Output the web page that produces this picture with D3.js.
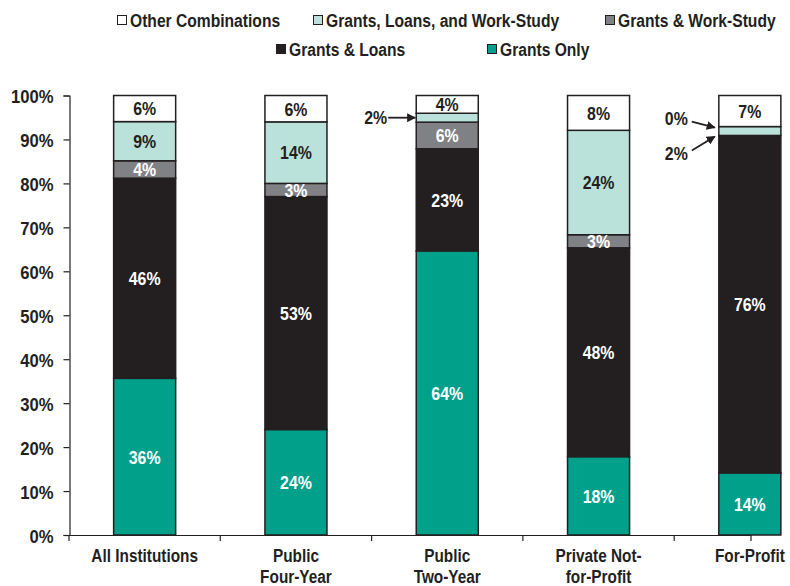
<!DOCTYPE html>
<html>
<head>
<meta charset="utf-8">
<script src="https://cdn.jsdelivr.net/npm/d3@7/dist/d3.min.js"></script>
<style>
  html, body { margin: 0; padding: 0; background: #fff; }
  svg { display: block; }
  text { font-family: "Liberation Sans", Arial, sans-serif; font-weight: bold; fill: #231f20; }
</style>
</head>
<body>
<svg id="chart" width="790" height="586"></svg>
<script>
// Institution types (each label may wrap onto two lines)
const categories = ["All Institutions", "Public Four-Year", "Public Two-Year", "Private Not-for-Profit", "For-Profit"];
const categoryLines = [["All Institutions"], ["Public", "Four-Year"], ["Public", "Two-Year"], ["Private Not-", "for-Profit"], ["For-Profit"]];

// Aid package shares (percent), stacked bottom to top
const series = ["Grants Only", "Grants & Loans", "Grants & Work-Study", "Grants, Loans, and Work-Study", "Other Combinations"];
const grantsOnly      = [36, 24, 64, 18, 14];
const grantsLoans     = [46, 53, 23, 48, 76];
const grantsWorkStudy = [4, 3, 6, 3, 0];
const grantsLoansWS   = [9, 14, 2, 24, 2];
const otherCombos     = [6, 6, 4, 8, 7];

const yTicks = [0, 0.1, 0.2, 0.3, 0.4, 0.5, 0.6, 0.7, 0.8, 0.9, 1.0];

const colors = {
  "Grants Only": "#00a08a",
  "Grants & Loans": "#231f20",
  "Grants & Work-Study": "#808184",
  "Grants, Loans, and Work-Study": "#bbe2da",
  "Other Combinations": "#ffffff"
};
const labelColors = {
  "Grants Only": "#ffffff",
  "Grants & Loans": "#ffffff",
  "Grants & Work-Study": "#ffffff",
  "Grants, Loans, and Work-Study": "#231f20",
  "Other Combinations": "#231f20"
};

const rows = categories.map((c, i) => ({
  category: c,
  "Grants Only": grantsOnly[i],
  "Grants & Loans": grantsLoans[i],
  "Grants & Work-Study": grantsWorkStudy[i],
  "Grants, Loans, and Work-Study": grantsLoansWS[i],
  "Other Combinations": otherCombos[i]
}));

const stacked = d3.stack().keys(series).offset(d3.stackOffsetExpand)(rows);

const svg = d3.select("#chart");
const FONT = 18.5;

// Condensed bold text: horizontally squeezed around its anchor point
function condText(parent, tx, ty, str, opts = {}) {
  const sx = opts.sx || 0.84;
  return parent.append("text")
    .attr("transform", `translate(${tx},${ty}) scale(${sx},1)`)
    .attr("text-anchor", opts.anchor || "start")
    .attr("font-size", opts.size || FONT)
    .attr("dy", opts.dy || null)
    .style("fill", opts.fill || "#231f20")
    .text(str);
}

const plotLeft = 69, plotBottom = 535, plotTop = 95.5, catStep = 151.3, axisEnd = 751;
const x = d3.scaleBand()
  .domain(categories)
  .range([plotLeft, plotLeft + catStep * categories.length])
  .paddingInner(0.59)
  .paddingOuter(0.295);
const y = d3.scaleLinear().domain([0, 1]).range([plotBottom, plotTop]);

// Y axis
const yAxis = d3.axisLeft(y).tickValues(yTicks).tickFormat(d3.format(".0%")).tickSize(6).tickPadding(9);
const yg = svg.append("g").attr("transform", `translate(${plotLeft + 0.5},0)`).call(yAxis);
yg.select(".domain").attr("stroke", "#231f20").attr("stroke-width", 1.2);
yg.selectAll(".tick line").attr("stroke", "#231f20").attr("stroke-width", 1.2);
yg.selectAll(".tick text")
  .attr("x", 0)
  .attr("transform", "translate(-16,0) scale(0.9,1)")
  .attr("font-size", FONT)
  .attr("font-family", "'Liberation Sans', Arial, sans-serif")
  .attr("font-weight", "bold")
  .attr("fill", "#231f20")
  .attr("dy", "0.4em");

// Bars
const layer = svg.append("g").selectAll("g")
  .data(stacked)
  .join("g")
  .attr("fill", d => colors[d.key]);

layer.selectAll("rect")
  .data(d => d.map(p => ({ key: d.key, p })))
  .join("rect")
  .attr("x", d => x(d.p.data.category))
  .attr("width", x.bandwidth())
  .attr("y", d => y(d.p[1]))
  .attr("height", d => Math.max(0, y(d.p[0]) - y(d.p[1])))
  .attr("stroke", "#231f20")
  .attr("stroke-width", 1.5);

// X axis: baseline, separator ticks and end tick
const xg = svg.append("g");
xg.append("line")
  .attr("x1", plotLeft).attr("x2", axisEnd)
  .attr("y1", plotBottom + 0.5).attr("y2", plotBottom + 0.5)
  .attr("stroke", "#231f20").attr("stroke-width", 1.2);
const sepTicks = categories.map((c, i) => plotLeft + i * x.step()).concat([axisEnd]);
xg.selectAll("line.tick")
  .data(sepTicks)
  .join("line")
  .attr("class", "tick")
  .attr("x1", d => d).attr("x2", d => d)
  .attr("y1", plotBottom).attr("y2", plotBottom + 6)
  .attr("stroke", "#231f20").attr("stroke-width", 1.2);

categories.forEach((c, i) => {
  const cx = x(c) + x.bandwidth() / 2;
  categoryLines[i].forEach((line, j) => {
    condText(xg, cx, 562 + j * 21, line, { anchor: "middle", sx: 0.83 });
  });
});

// Value labels inside segments (thin ones are called out with arrows)
const segs = [];
stacked.forEach(s => s.forEach((p, i) => segs.push({ key: s.key, p, value: rows[i][s.key], category: categories[i] })));
const valueLayer = svg.append("g");
segs.filter(d => d.value >= 3).forEach(d => {
  condText(valueLayer,
    x(d.category) + x.bandwidth() / 2,
    (y(d.p[0]) + y(d.p[1])) / 2,
    d.value + "%",
    { anchor: "middle", sx: 0.86, dy: "0.37em", fill: labelColors[d.key] });
});

// Arrow callouts for the thin segments
const defs = svg.append("defs");
defs.append("marker")
  .attr("id", "arrow")
  .attr("viewBox", "0 0 10 10")
  .attr("refX", 9).attr("refY", 5)
  .attr("markerWidth", 5).attr("markerHeight", 5)
  .attr("markerUnits", "strokeWidth")
  .attr("orient", "auto")
  .append("path").attr("d", "M0,0 L10,5 L0,10 Z").attr("fill", "#231f20");

const callouts = svg.append("g");
function callout(tx, ty, x1, y1, x2, y2, label) {
  callouts.append("line")
    .attr("x1", x1).attr("y1", y1).attr("x2", x2).attr("y2", y2)
    .attr("stroke", "#231f20").attr("stroke-width", 1.8)
    .attr("marker-end", "url(#arrow)");
  condText(callouts, tx, ty, label, { anchor: "end", sx: 0.86 });
}
function segOf(cat, key) { return segs.find(s => s.category === cat && s.key === key); }

// Public Two-Year: horizontal arrow to the middle of the thin segment
{
  const s = segOf("Public Two-Year", "Grants, Loans, and Work-Study");
  const bx = x(s.category);
  const my = (y(s.p[0]) + y(s.p[1])) / 2;
  callout(bx - 29, my + 6.5, bx - 28, my, bx - 1, my, s.value + "%");
}
// For-Profit: two angled arrows, one from above and one from below
{
  const ws = segOf("For-Profit", "Grants & Work-Study");
  const glws = segOf("For-Profit", "Grants, Loans, and Work-Study");
  const bx = x(ws.category);
  const yTop = y(glws.p[1]);
  const yBot = y(glws.p[0]);
  callout(bx - 31, yTop - 2, bx - 27, yTop - 5, bx - 4, yTop + 1, ws.value + "%");
  callout(bx - 31, yBot + 25, bx - 27, yBot + 15, bx - 4, yBot + 1, glws.value + "%");
}

// Legend
const legendOrder = ["Other Combinations", "Grants, Loans, and Work-Study", "Grants & Work-Study", "Grants & Loans", "Grants Only"];
const legendPos = [[117, 20], [313, 20], [605, 20], [276, 49], [487, 49]];
const legend = svg.append("g");
legendOrder.forEach((k, i) => {
  const [lx, ly] = legendPos[i];
  legend.append("rect")
    .attr("x", lx + 0.5).attr("y", ly - 4.5)
    .attr("width", 9).attr("height", 9)
    .attr("fill", colors[k])
    .attr("stroke", "#231f20").attr("stroke-width", 1);
  condText(legend, lx + 13, ly + 6.5, k, { sx: 0.845 });
});
</script>
</body>
</html>
